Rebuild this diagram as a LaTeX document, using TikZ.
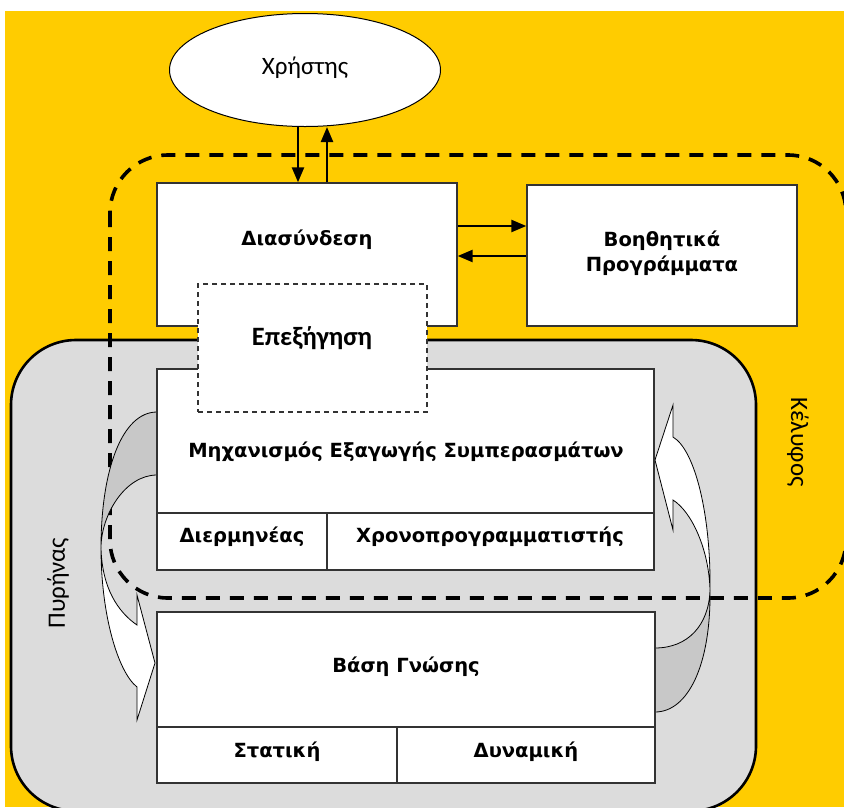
\documentclass[tikz,border=0pt]{standalone}
\usepackage{fontspec}
\setmainfont{DejaVu Sans}
\newfontfamily\lightfont{Carlito}
\usetikzlibrary{arrows.meta,shapes.geometric}

\definecolor{shellyellow}{HTML}{FFCC00}
\definecolor{coregray}{HTML}{DCDCDC}
\definecolor{ribbongray}{HTML}{C8C8C8}
\definecolor{boxline}{HTML}{333333}

\tikzset{
  box/.style={draw=boxline, line width=1.4pt, fill=white, inner sep=0pt},
  boxtext/.style={font=\bfseries\fontsize{19.5}{24}\selectfont, align=center, inner sep=0pt},
  softtext/.style={font=\lightfont\fontsize{25}{28}\selectfont, inner sep=0pt},
  conn/.style={line width=2.4pt, -{Triangle[length=15pt,width=12pt]}},
  shell/.style={line width=3.6pt, dash pattern=on 14pt off 10pt},
  ribbon/.style={draw=black, line width=0.8pt}
}

\begin{document}
\begin{tikzpicture}[x=1pt,y=-1pt]
\useasboundingbox (0,0) rectangle (844,807);
\clip (0,0) rectangle (844,807);
\fill[white] (0,0) rectangle (844,807);
\fill[shellyellow] (5,11) rectangle (844,807);

% kernel area
\draw[line width=2.6pt, fill=coregray, rounded corners=65pt] (11,340) rectangle (756,811);

% shell boundary
\draw[shell, rounded corners=58pt] (110,155) rectangle (846,598);

% user
\node[draw=black, line width=1pt, fill=white, ellipse, minimum width=271pt, minimum height=113pt, inner sep=0pt] (user) at (305,70) {};
\node[softtext] (usertxt) at (305,68) {Χρήστης};

% curved ribbon on the left: inference engine -> knowledge base
\coordinate (lx) at (101,548);
\fill[ribbongray] (157,412) .. controls (122,412) and (101,470) .. (lx) .. controls (101,515) and (125,475) .. (157,475) -- cycle;
\draw[ribbon] (157,412) .. controls (122,412) and (101,470) .. (lx) .. controls (101,515) and (125,475) .. (157,475);
\draw[ribbon, fill=white] (lx) .. controls (101,615) and (118,672) .. (137,687) -- (137,720) -- (155,663) -- (137,595) -- (137,625) .. controls (118,612) and (102,588) .. (lx) -- cycle;

% curved ribbon on the right: knowledge base -> inference engine
\coordinate (rx) at (710,590);
\fill[ribbongray] (rx) .. controls (711,665) and (688,712) .. (655,712) -- (655,648) .. controls (688,648) and (709,625) .. (rx) -- cycle;
\draw[ribbon] (655,712) .. controls (688,712) and (711,665) .. (rx) .. controls (709,625) and (688,648) .. (655,648);
\draw[ribbon, fill=white] (rx) .. controls (711,515) and (695,450) .. (673,437) -- (673,405) -- (655,460) -- (673,530) -- (673,500) .. controls (692,512) and (709,550) .. (rx) -- cycle;

% boxes of the shell
\node[box, minimum width=300pt, minimum height=143pt] (dias) at (307,254.5) {};
\node[boxtext] (diastxt) at (307,240) {Διασύνδεση};
\node[box, minimum width=270pt, minimum height=141pt] (aux) at (662,255.5) {};
\node[boxtext] (auxtxt) at (662,253.5) {Βοηθητικά\\[1pt]Προγράμματα};

% inference engine
\node[box, minimum width=497pt, minimum height=144pt] (mech) at (405.5,441) {};
\node[boxtext] (mechtxt) at (406,452) {Μηχανισμός Εξαγωγής Συμπερασμάτων};
\node[box, minimum width=170pt, minimum height=57pt] (interp) at (242,541.5) {};
\node[boxtext] (interptxt) at (242,537) {Διερμηνέας};
\node[box, minimum width=327pt, minimum height=57pt] (sched) at (490.5,541.5) {};
\node[boxtext] (schedtxt) at (490,537) {Χρονοπρογραμματιστής};

% knowledge base
\node[box, minimum width=498pt, minimum height=115pt] (kb) at (406,669.5) {};
\node[boxtext] (kbtxt) at (406,667) {Βάση Γνώσης};
\node[box, minimum width=240pt, minimum height=56pt] (static) at (277,755) {};
\node[boxtext] (statictxt) at (277,752) {Στατική};
\node[box, minimum width=258pt, minimum height=56pt] (dynamic) at (526,755) {};
\node[boxtext] (dynamictxt) at (526,752) {Δυναμική};

% explanation facility
\node[draw=boxline, line width=1.6pt, dash pattern=on 5pt off 4pt, fill=white, minimum width=229pt, minimum height=128pt, inner sep=0pt] (expl) at (312.5,348) {};
\node[softtext, font=\lightfont\bfseries\fontsize{26.5}{30}\selectfont] (expltxt) at (312,338) {Επεξήγηση};

% connectors
\coordinate (dn) at (298,0);
\coordinate (up) at (327,0);
\coordinate (rt) at (0,226);
\coordinate (lt) at (0,256);
\draw[conn] (user.south -| dn) -- (dias.north -| dn);
\draw[conn] (dias.north -| up) -- (user.south -| up);
\draw[conn] (dias.east |- rt) -- (aux.west |- rt);
\draw[conn] (aux.west |- lt) -- (dias.east |- lt);

% side labels
\node[softtext, rotate=90] (kernel) at (58,583) {Πυρήνας};
\node[softtext, rotate=-90] (shelltxt) at (798,442) {Κέλυφος};
\end{tikzpicture}
\end{document}
